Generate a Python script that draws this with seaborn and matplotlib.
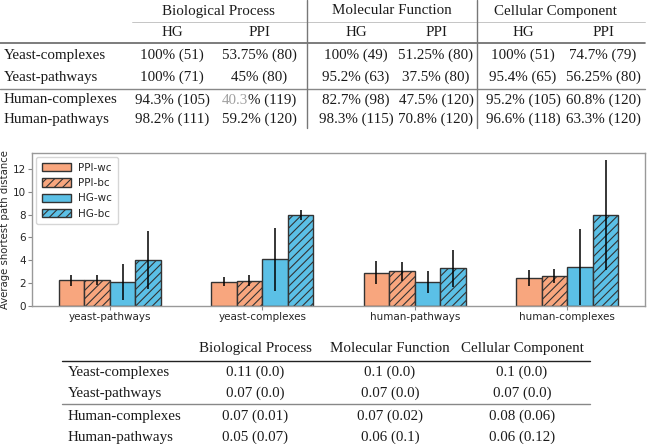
import matplotlib
matplotlib.use("Agg")
import matplotlib.pyplot as plt
from matplotlib.patches import Patch
from matplotlib.lines import Line2D
import seaborn as sns
import pandas as pd
import numpy as np

# ---------------- data ----------------
categories = ["yeast-pathways", "yeast-complexes", "human-pathways", "human-complexes"]
series = ["PPI-wc", "PPI-bc", "HG-wc", "HG-bc"]
ppi_wc = [2.25, 2.13, 2.92, 2.45]
ppi_wc_err = [0.50, 0.38, 1.00, 0.68]
ppi_bc = [2.27, 2.22, 3.05, 2.62]
ppi_bc_err = [0.47, 0.48, 0.83, 0.62]
hg_wc = [2.12, 4.09, 2.10, 3.42]
hg_wc_err = [1.60, 2.76, 1.00, 3.30]
hg_bc = [4.03, 7.94, 3.30, 7.95]
hg_bc_err = [2.56, 0.45, 1.62, 4.82]

top_groups = ["Biological Process", "Molecular Function", "Cellular Component"]
top_sub = ["HG", "PPI"]
row_labels = ["Yeast-complexes", "Yeast-pathways", "Human-complexes", "Human-pathways"]
top_values = [
    ["100% (51)", "53.75% (80)", "100% (49)", "51.25% (80)", "100% (51)", "74.7% (79)"],
    ["100% (71)", "45% (80)", "95.2% (63)", "37.5% (80)", "95.4% (65)", "56.25% (80)"],
    ["94.3% (105)", "40.3% (119)", "82.7% (98)", "47.5% (120)", "95.2% (105)", "60.8% (120)"],
    ["98.2% (111)", "59.2% (120)", "98.3% (115)", "70.8% (120)", "96.6% (118)", "63.3% (120)"],
]
bottom_values = [
    ["0.11 (0.0)", "0.1 (0.0)", "0.1 (0.0)"],
    ["0.07 (0.0)", "0.07 (0.0)", "0.07 (0.0)"],
    ["0.07 (0.01)", "0.07 (0.02)", "0.08 (0.06)"],
    ["0.05 (0.07)", "0.06 (0.1)", "0.06 (0.12)"],
]

means = {"PPI-wc": ppi_wc, "PPI-bc": ppi_bc, "HG-wc": hg_wc, "HG-bc": hg_bc}
errs = {"PPI-wc": ppi_wc_err, "PPI-bc": ppi_bc_err, "HG-wc": hg_wc_err, "HG-bc": hg_bc_err}
rows = []
for s in series:
    for c, v in zip(categories, means[s]):
        rows.append({"dataset": c, "method": s, "value": v})
df = pd.DataFrame(rows)

ORANGE = "#f8a67e"
BLUE = "#5bc0e6"
EDGE = "#333333"
palette = {"PPI-wc": ORANGE, "PPI-bc": ORANGE, "HG-wc": BLUE, "HG-bc": BLUE}
hatches = {"PPI-wc": "", "PPI-bc": "////", "HG-wc": "", "HG-bc": "////"}

sns.set_style("white")
plt.rcParams["font.family"] = ["DejaVu Sans"]
plt.rcParams["hatch.color"] = EDGE
plt.rcParams["hatch.linewidth"] = 0.8

W, H = 650, 444
fig = plt.figure(figsize=(W / 100, H / 100), dpi=100)

# --------------- bar chart ---------------
ax = fig.add_axes([32 / W, 1 - 306 / H, (645 - 32) / W, (306 - 153) / H])
sns.barplot(data=df, x="dataset", y="value", hue="method", hue_order=series,
            order=categories, palette=palette, errorbar=None, width=0.67,
            edgecolor=EDGE, linewidth=1.0, legend=False, ax=ax, saturation=1)
for s, cont in zip(series, ax.containers):
    for i, bar in enumerate(cont):
        bar.set_hatch(hatches[s])
        xc = bar.get_x() + bar.get_width() / 2
        ax.errorbar(xc, bar.get_height(), yerr=errs[s][i], color="black",
                    lw=1.1, capsize=0, zorder=5)
ax.set_xlim(-0.51, 3.51)
ax.set_ylim(0, 13.4)
ax.set_yticks([0, 2, 4, 6, 8, 10, 12])
ax.set_xlabel("")
ax.set_ylabel("Average shortest path distance", fontsize=7.3, labelpad=2)
ax.tick_params(axis="both", labelsize=7.5, length=3, color="#888888", pad=1.5,
               left=True, bottom=True)
for sp in ax.spines.values():
    sp.set_color("#999999")
    sp.set_linewidth(1.0)

handles = [Patch(facecolor=palette[s], edgecolor=EDGE, hatch=hatches[s], label=s)
           for s in series]
ax.legend(handles=handles, loc="upper left", fontsize=7.5, frameon=True,
          handlelength=2.8, handleheight=0.85, borderpad=0.55, labelspacing=0.5,
          handletextpad=0.7, edgecolor="#cccccc", fancybox=True,
          borderaxespad=0.4)

# --------------- tables ---------------
SERIF = ["Liberation Serif", "DejaVu Serif"]
FS = 10.8
TC = "#1a1a1a"


def px(x, y):
    return x / W, 1 - y / H


def txt(x, y, s, ha="center", color=TC):
    fig.text(*px(x, y), s, ha=ha, va="center", fontsize=FS, family=SERIF, color=color)


def hline(x0, x1, y, color="#555555", lw=1.0):
    fig.add_artist(Line2D([x0 / W, x1 / W], [1 - y / H, 1 - y / H], color=color, lw=lw,
                          transform=fig.transFigure))


def vline(x, y0, y1, color="#777777", lw=1.0):
    fig.add_artist(Line2D([x / W, x / W], [1 - y0 / H, 1 - y1 / H], color=color, lw=lw,
                          transform=fig.transFigure))


# top table
grp_x = [218, 392, 555]
col_x = [172, 259, 356, 436, 523, 603]
for g, gx in zip(top_groups, grp_x):
    txt(gx, 11, g)
for j, cx in enumerate(col_x):
    txt(cx, 33, top_sub[j % 2])
hline(132, 645, 22, color="#bbbbbb", lw=0.6)
hline(0, 645, 43, color="#666666", lw=1.2)
hline(0, 645, 89, color="#888888", lw=1.0)
vline(307, 0, 128)
vline(477, 0, 128)
top_row_y = [55, 77, 100, 119]
for r, (lab, ry) in enumerate(zip(row_labels, top_row_y)):
    txt(4, ry, lab, ha="left")
    for j, cx in enumerate(col_x):
        val = top_values[r][j]
        if r == 2 and j == 1:
            # highlighted number in grey
            num, rest = val.split("%", 1)
            rest = "%" + rest
            t_full = fig.text(*px(cx, ry), val, ha="center", va="center", fontsize=FS,
                              family=SERIF, alpha=0)
            fig.canvas.draw()
            bb = t_full.get_window_extent()
            t_num = fig.text(bb.x0 / W, 1 - ry / H, num, ha="left", va="center",
                             fontsize=FS, family=SERIF, color="#a0a0a0")
            bb2 = t_num.get_window_extent()
            fig.text(bb2.x1 / W, 1 - ry / H, rest, ha="left", va="center",
                     fontsize=FS, family=SERIF, color=TC)
        else:
            txt(cx, ry, val)

# bottom table
bcol_x = [255, 390, 522]
for g, gx in zip(top_groups, bcol_x):
    txt(gx, 348, g)
hline(62, 590, 361, color="#222222", lw=1.0)
hline(62, 590, 404, color="#888888", lw=1.0)
bot_row_y = [372, 393, 416, 437]
for r, (lab, ry) in enumerate(zip(row_labels, bot_row_y)):
    txt(68, ry, lab, ha="left")
    for j, cx in enumerate(bcol_x):
        txt(cx, ry, bottom_values[r][j])

fig.savefig("out.png", dpi=100)
